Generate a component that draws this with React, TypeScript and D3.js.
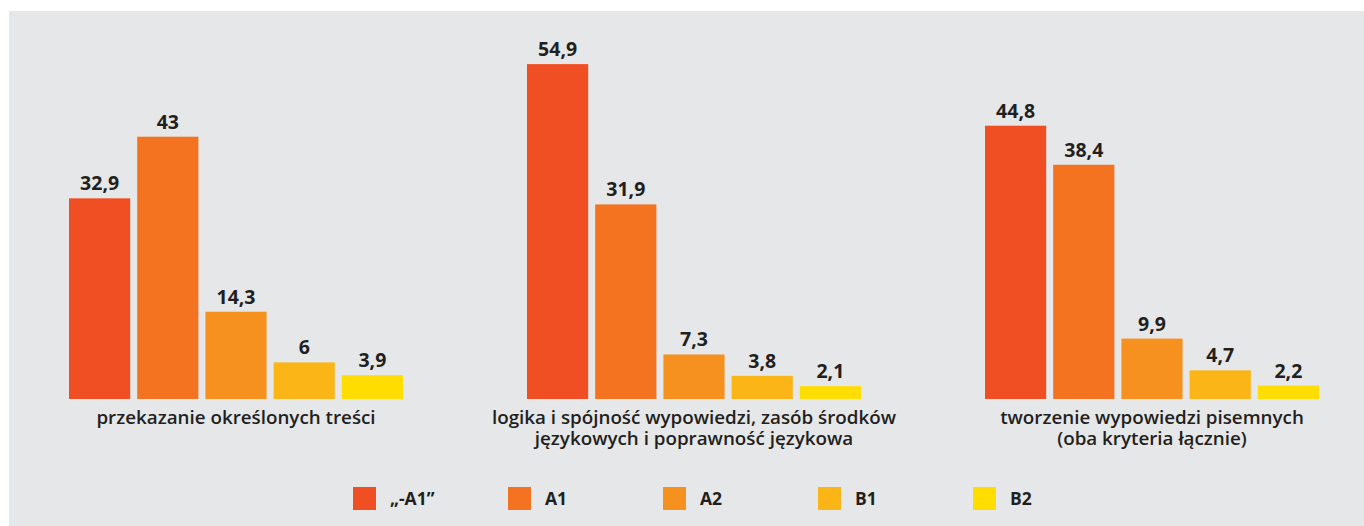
import { useEffect, useRef } from "react";
import * as d3 from "d3";

const categories = [
  ["przekazanie określonych treści"],
  ["logika i spójność wypowiedzi, zasób środków", "językowych i poprawność językowa"],
  ["tworzenie wypowiedzi pisemnych", "(oba kryteria łącznie)"],
];
const seriesNames = ["„-A1”", "A1", "A2", "B1", "B2"];
const seriesColors = ["#f04e23", "#f37321", "#f6901e", "#fbb516", "#ffdd00"];
// values per category, in series order
const values = [
  [32.9, 43, 14.3, 6, 3.9],
  [54.9, 31.9, 7.3, 3.8, 2.1],
  [44.8, 38.4, 9.9, 4.7, 2.2],
];

const W = 1364;
const H = 526;
const textColor = "#231f20";
const font = "'Open Sans', sans-serif";

export default function App() {
  const svgRef = useRef<SVGSVGElement>(null);

  useEffect(() => {
    if (!svgRef.current) return;
    const svg = d3.select(svgRef.current);
    svg.selectAll("*").remove();

    svg
      .append("rect")
      .attr("x", 9)
      .attr("y", 11)
      .attr("width", W - 9)
      .attr("height", H - 11)
      .attr("fill", "#e6e7e8");

    const groupIdx = categories.map((_, i) => String(i));
    const x0 = d3.scaleBand().domain(groupIdx).range([69, 1319]).paddingInner(124 / 458).paddingOuter(0);
    const x1 = d3
      .scaleBand()
      .domain(seriesNames)
      .range([0, x0.bandwidth()])
      .paddingInner(7 / 68)
      .paddingOuter(0);
    const y = d3.scaleLinear().domain([0, 60]).range([399, 399 - 60 * 6.1]);

    const groups = svg
      .selectAll("g.group")
      .data(values)
      .enter()
      .append("g")
      .attr("class", "group")
      .attr("transform", (_, i) => `translate(${x0(String(i))},0)`);

    groups
      .selectAll("rect")
      .data((d) => d)
      .enter()
      .append("rect")
      .attr("x", (_, j) => x1(seriesNames[j])!)
      .attr("y", (d) => y(d))
      .attr("width", x1.bandwidth())
      .attr("height", (d) => y(0) - y(d))
      .attr("fill", (_, j) => seriesColors[j]);

    groups
      .selectAll("text.val")
      .data((d) => d)
      .enter()
      .append("text")
      .attr("class", "val")
      .attr("x", (_, j) => x1(seriesNames[j])! + x1.bandwidth() / 2)
      .attr("y", (d) => y(d) - 8)
      .attr("text-anchor", "middle")
      .attr("font-family", font)
      .attr("font-weight", 700)
      .attr("font-size", 19.5)
      .attr("fill", textColor)
      .text((d) => String(d).replace(".", ","));

    // category labels under each group, one text per line
    categories.forEach((lines, i) => {
      const cx = x0(String(i))! + x0.bandwidth() / 2;
      lines.forEach((line, k) => {
        svg
          .append("text")
          .attr("x", cx)
          .attr("y", 424 + k * 20.5)
          .attr("text-anchor", "middle")
          .attr("font-family", font)
          .attr("font-weight", 600)
          .attr("font-size", 18.8)
          .attr("fill", textColor)
          .text(line);
      });
    });

    // legend
    const lx = d3.scalePoint().domain(seriesNames).range([353, 973]);
    const legend = svg
      .selectAll("g.legend")
      .data(seriesNames)
      .enter()
      .append("g")
      .attr("class", "legend")
      .attr("transform", (d) => `translate(${lx(d)},487)`);
    legend
      .append("rect")
      .attr("width", 23)
      .attr("height", 23)
      .attr("fill", (_, j) => seriesColors[j]);
    legend
      .append("text")
      .attr("x", 37)
      .attr("y", 18)
      .attr("font-family", font)
      .attr("font-weight", 700)
      .attr("font-size", 17.5)
      .attr("fill", textColor)
      .text((d) => d);
  }, []);

  return (
    <svg
      ref={svgRef}
      width={W}
      height={H}
      viewBox={`0 0 ${W} ${H}`}
      style={{ position: "absolute", left: 0, top: 0, display: "block" }}
    />
  );
}
